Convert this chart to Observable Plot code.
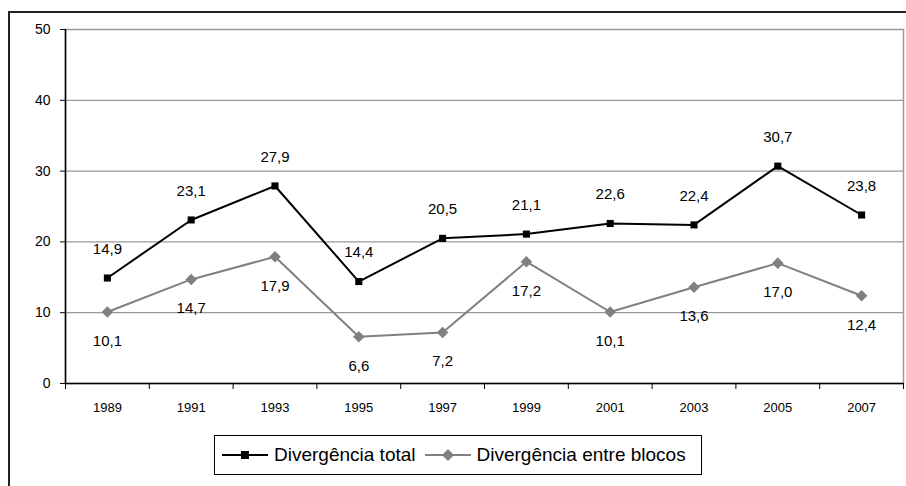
<!DOCTYPE html>
<html>
<head>
<meta charset="utf-8">
<script src="https://cdn.jsdelivr.net/npm/d3@7"></script>
<script src="https://cdn.jsdelivr.net/npm/@observablehq/plot@0.6"></script>
<style>
  html, body { margin: 0; padding: 0; background: #fff; width: 906px; height: 486px; overflow: hidden; font-family: "Liberation Sans", Arial, sans-serif; }
  #frame { position: absolute; left: 8px; top: 11px; width: 1000px; height: 600px; border-left: 2px solid #222; border-top: 2px solid #222; pointer-events: none; z-index: 2; }
  #chart { position: absolute; left: 0; top: 0; }
  #legend { position: absolute; left: 214px; top: 435px; width: 486px; height: 38px; border: 1px solid #000; background: #fff; display: flex; align-items: center; font-size: 19px; color: #000; }
  .item { display: flex; align-items: center; }
  .item svg { display: block; }
</style>
</head>
<body>
<div id="frame"></div>
<div id="chart"></div>
<div id="legend"></div>
<script>
const years = [1989, 1991, 1993, 1995, 1997, 1999, 2001, 2003, 2005, 2007];
const total = [14.9, 23.1, 27.9, 14.4, 20.5, 21.1, 22.6, 22.4, 30.7, 23.8];
const blocos = [10.1, 14.7, 17.9, 6.6, 7.2, 17.2, 10.1, 13.6, 17.0, 12.4];
const seriesNames = ["Divergência total", "Divergência entre blocos"];
const yTicks = [0, 10, 20, 30, 40, 50];
const xBounds = [1988, 2008];

const totalData = years.map((y, i) => ({year: y, value: total[i]}));
const blocosData = years.map((y, i) => ({year: y, value: blocos[i]}));
const fmt = v => v.toFixed(1).replace(".", ",");
const boundaryTicks = d3.range(xBounds[0], xBounds[1] + 1, 2);
const font = "Liberation Sans, Arial, sans-serif";

const chart = Plot.plot({
  width: 906,
  height: 420,
  marginLeft: 65,
  marginRight: 3,
  marginTop: 29,
  marginBottom: 37,
  style: {fontFamily: font, background: "transparent", color: "#000"},
  x: {type: "linear", domain: xBounds, label: null},
  y: {domain: [0, 50], label: null},
  marks: [
    Plot.frame({stroke: "#999", strokeWidth: 1.5}),
    Plot.ruleY(yTicks.slice(1, -1), {stroke: "#999", strokeWidth: 1.2}),
    Plot.ruleY([0], {stroke: "#000", strokeWidth: 1.5}),
    Plot.ruleX([xBounds[0]], {stroke: "#000", strokeWidth: 1.5}),
    Plot.axisY(yTicks, {tickSize: 5, tickPadding: 10, fontSize: 14, stroke: "#000", label: null}),
    Plot.axisX(boundaryTicks, {tickSize: 6, tickFormat: () => "", stroke: "#000", label: null}),
    Plot.axisX(years, {tickSize: 0, tickPadding: 19, fontSize: 13, tickFormat: d => String(d), label: null}),
    Plot.line(blocosData, {x: "year", y: "value", stroke: "#808080", strokeWidth: 2}),
    Plot.dot(blocosData, {x: "year", y: "value", symbol: "diamond2", r: 5.2, fill: "#808080", stroke: "none"}),
    Plot.line(totalData, {x: "year", y: "value", stroke: "#000", strokeWidth: 2}),
    Plot.dot(totalData, {x: "year", y: "value", symbol: "square", r: 4, fill: "#000", stroke: "none"}),
    Plot.text(totalData, {x: "year", y: "value", text: d => fmt(d.value), dy: -29, fontSize: 15, fill: "#000"}),
    Plot.text(blocosData, {x: "year", y: "value", text: d => fmt(d.value), dy: 29, fontSize: 15, fill: "#000"})
  ]
});
document.getElementById("chart").appendChild(chart);

// Legend
const legend = document.getElementById("legend");
const specs = [
  {name: seriesNames[0], color: "#000", shape: "square"},
  {name: seriesNames[1], color: "#808080", shape: "diamond"}
];
specs.forEach((s, i) => {
  const item = document.createElement("div");
  item.className = "item";
  item.style.marginLeft = i === 0 ? "7px" : "9px";
  const marker = s.shape === "square"
    ? `<rect x="19" y="7" width="8" height="8" fill="${s.color}"/>`
    : `<path d="M23,5 L29,11 L23,17 L17,11 Z" fill="${s.color}"/>`;
  item.innerHTML = `<svg width="46" height="22"><line x1="0" x2="46" y1="11" y2="11" stroke="${s.color}" stroke-width="2"/>${marker}</svg><span style="margin-left:6px">${s.name}</span>`;
  legend.appendChild(item);
});
</script>
</body>
</html>
